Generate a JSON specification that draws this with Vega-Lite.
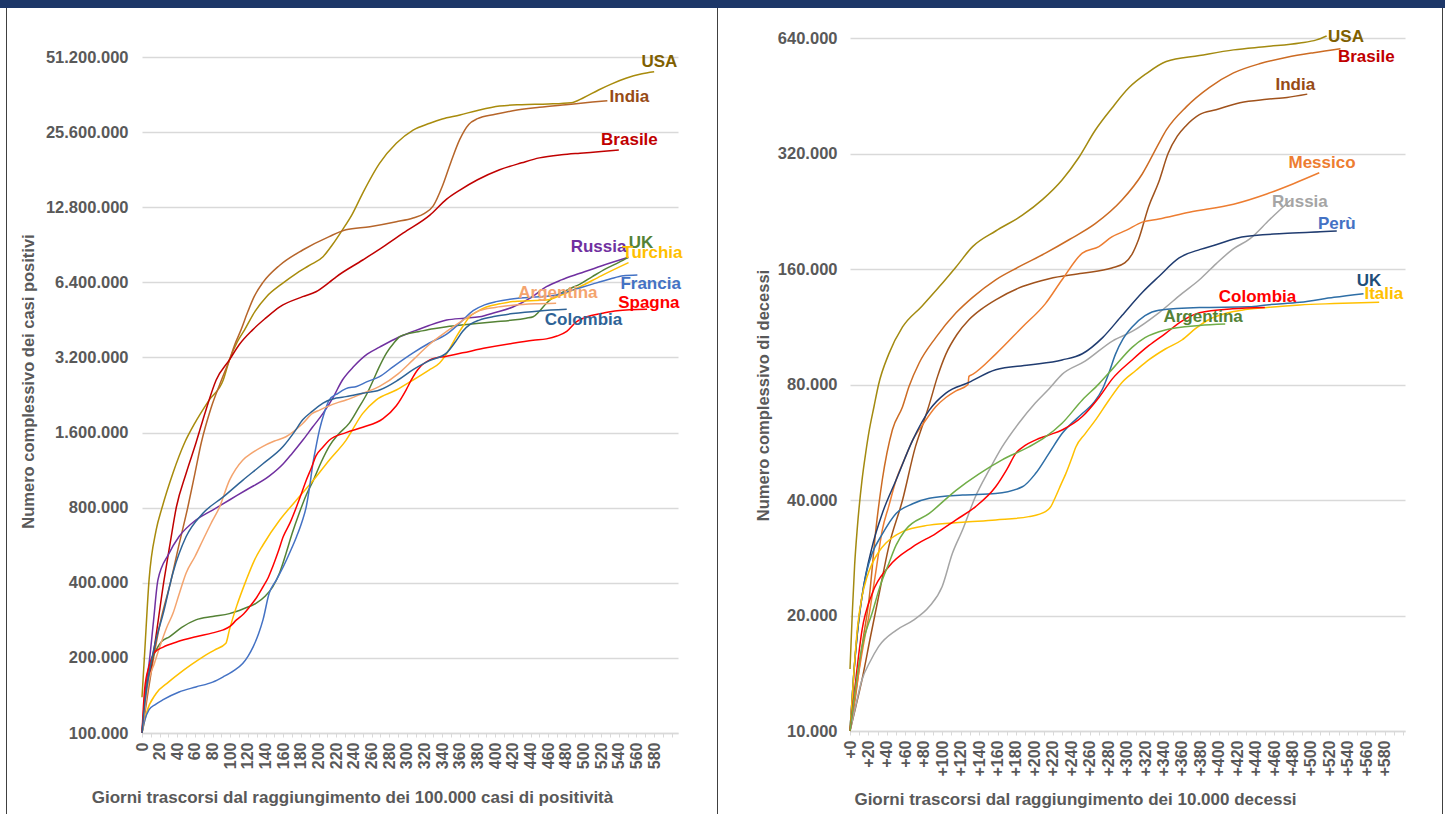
{
  "$schema": "https://vega.github.io/schema/vega-lite/v6.json",
  "padding": 0,
  "autosize": {"type": "pad"},
  "background": "white",
  "spacing": 0,
  "bounds": "flush",
  "config": {
    "font": "Liberation Sans",
    "view": {"stroke": null},
    "axis": {
      "labelFont": "Liberation Sans",
      "labelFontWeight": "bold",
      "labelColor": "#595959",
      "titleFont": "Liberation Sans",
      "titleFontWeight": "bold",
      "titleColor": "#595959",
      "gridColor": "#D9D9D9",
      "gridWidth": 1.5,
      "domainColor": "#D9D9D9",
      "tickColor": "#D9D9D9",
      "labelOverlap": false,
      "labelFlush": false,
      "labelBound": false
    },
    "line": {"strokeWidth": 1.5, "interpolate": "monotone"},
    "text": {"font": "Liberation Sans", "fontWeight": "bold", "fontSize": 17, "align": "center", "baseline": "middle"}
  },
  "datasets": {
    "cases": [
      {"country":"USA","day":0,"value":139000},{"country":"USA","day":3,"value":209000},{"country":"USA","day":8,"value":411000},{"country":"USA","day":16,"value":650000},{"country":"USA","day":23,"value":807000},{"country":"USA","day":35,"value":1100000},{"country":"USA","day":48,"value":1450000},{"country":"USA","day":60,"value":1750000},{"country":"USA","day":76,"value":2160000},{"country":"USA","day":92,"value":2600000},{"country":"USA","day":99,"value":3130000},{"country":"USA","day":108,"value":3700000},{"country":"USA","day":116,"value":4120000},{"country":"USA","day":128,"value":4900000},{"country":"USA","day":141,"value":5610000},{"country":"USA","day":158,"value":6300000},{"country":"USA","day":175,"value":6960000},{"country":"USA","day":190,"value":7500000},{"country":"USA","day":205,"value":8110000},{"country":"USA","day":215,"value":9000000},{"country":"USA","day":227,"value":10400000},{"country":"USA","day":238,"value":12000000},{"country":"USA","day":250,"value":14600000},{"country":"USA","day":269,"value":19200000},{"country":"USA","day":288,"value":23100000},{"country":"USA","day":307,"value":26100000},{"country":"USA","day":326,"value":27800000},{"country":"USA","day":340,"value":28900000},{"country":"USA","day":360,"value":30000000},{"country":"USA","day":380,"value":31300000},{"country":"USA","day":405,"value":32600000},{"country":"USA","day":430,"value":33000000},{"country":"USA","day":460,"value":33200000},{"country":"USA","day":486,"value":33600000},{"country":"USA","day":500,"value":35200000},{"country":"USA","day":517,"value":37800000},{"country":"USA","day":532,"value":40000000},{"country":"USA","day":548,"value":42100000},{"country":"USA","day":565,"value":43800000},{"country":"USA","day":580,"value":44700000},
      {"country":"India","day":0,"value":100000},{"country":"India","day":6,"value":140000},{"country":"India","day":12,"value":190000},{"country":"India","day":20,"value":270000},{"country":"India","day":33,"value":411000},{"country":"India","day":42,"value":570000},{"country":"India","day":52,"value":807000},{"country":"India","day":60,"value":1100000},{"country":"India","day":67,"value":1450000},{"country":"India","day":78,"value":2000000},{"country":"India","day":90,"value":2600000},{"country":"India","day":99,"value":3130000},{"country":"India","day":105,"value":3600000},{"country":"India","day":112,"value":4120000},{"country":"India","day":120,"value":4900000},{"country":"India","day":127,"value":5610000},{"country":"India","day":137,"value":6400000},{"country":"India","day":156,"value":7500000},{"country":"India","day":182,"value":8630000},{"country":"India","day":212,"value":9770000},{"country":"India","day":231,"value":10400000},{"country":"India","day":258,"value":10700000},{"country":"India","day":288,"value":11200000},{"country":"India","day":307,"value":11600000},{"country":"India","day":320,"value":12100000},{"country":"India","day":330,"value":13000000},{"country":"India","day":340,"value":15500000},{"country":"India","day":350,"value":19500000},{"country":"India","day":360,"value":24000000},{"country":"India","day":370,"value":27500000},{"country":"India","day":380,"value":29000000},{"country":"India","day":400,"value":30200000},{"country":"India","day":420,"value":31200000},{"country":"India","day":450,"value":32200000},{"country":"India","day":480,"value":33000000},{"country":"India","day":510,"value":33800000},{"country":"India","day":527,"value":34200000},
      {"country":"Brasile","day":0,"value":100000},{"country":"Brasile","day":5,"value":140000},{"country":"Brasile","day":14,"value":221000},{"country":"Brasile","day":25,"value":411000},{"country":"Brasile","day":32,"value":580000},{"country":"Brasile","day":39,"value":807000},{"country":"Brasile","day":50,"value":1100000},{"country":"Brasile","day":61,"value":1450000},{"country":"Brasile","day":72,"value":1950000},{"country":"Brasile","day":84,"value":2600000},{"country":"Brasile","day":99,"value":3130000},{"country":"Brasile","day":110,"value":3600000},{"country":"Brasile","day":125,"value":4120000},{"country":"Brasile","day":140,"value":4600000},{"country":"Brasile","day":156,"value":5110000},{"country":"Brasile","day":182,"value":5610000},{"country":"Brasile","day":197,"value":5870000},{"country":"Brasile","day":212,"value":6400000},{"country":"Brasile","day":220,"value":6740000},{"country":"Brasile","day":250,"value":7870000},{"country":"Brasile","day":273,"value":8890000},{"country":"Brasile","day":296,"value":10100000},{"country":"Brasile","day":326,"value":11900000},{"country":"Brasile","day":345,"value":13800000},{"country":"Brasile","day":360,"value":15000000},{"country":"Brasile","day":380,"value":16500000},{"country":"Brasile","day":405,"value":18100000},{"country":"Brasile","day":430,"value":19300000},{"country":"Brasile","day":450,"value":20200000},{"country":"Brasile","day":475,"value":20800000},{"country":"Brasile","day":496,"value":21100000},{"country":"Brasile","day":520,"value":21400000},{"country":"Brasile","day":540,"value":21700000},
      {"country":"Russia","day":0,"value":100000},{"country":"Russia","day":4,"value":150000},{"country":"Russia","day":8,"value":190000},{"country":"Russia","day":13,"value":280000},{"country":"Russia","day":18,"value":410000},{"country":"Russia","day":30,"value":520000},{"country":"Russia","day":42,"value":613000},{"country":"Russia","day":61,"value":714000},{"country":"Russia","day":80,"value":783000},{"country":"Russia","day":99,"value":859000},{"country":"Russia","day":118,"value":942000},{"country":"Russia","day":144,"value":1070000},{"country":"Russia","day":160,"value":1200000},{"country":"Russia","day":170,"value":1320000},{"country":"Russia","day":182,"value":1490000},{"country":"Russia","day":193,"value":1680000},{"country":"Russia","day":205,"value":1910000},{"country":"Russia","day":216,"value":2200000},{"country":"Russia","day":227,"value":2600000},{"country":"Russia","day":240,"value":2950000},{"country":"Russia","day":255,"value":3300000},{"country":"Russia","day":269,"value":3520000},{"country":"Russia","day":290,"value":3850000},{"country":"Russia","day":307,"value":4070000},{"country":"Russia","day":325,"value":4300000},{"country":"Russia","day":345,"value":4520000},{"country":"Russia","day":365,"value":4600000},{"country":"Russia","day":382,"value":4660000},{"country":"Russia","day":400,"value":4850000},{"country":"Russia","day":420,"value":5100000},{"country":"Russia","day":440,"value":5550000},{"country":"Russia","day":458,"value":6150000},{"country":"Russia","day":475,"value":6550000},{"country":"Russia","day":496,"value":6960000},{"country":"Russia","day":520,"value":7450000},{"country":"Russia","day":551,"value":8070000},
      {"country":"UK","day":0,"value":100000},{"country":"UK","day":5,"value":150000},{"country":"UK","day":10,"value":190000},{"country":"UK","day":16,"value":215000},{"country":"UK","day":22,"value":232000},{"country":"UK","day":31,"value":243000},{"country":"UK","day":45,"value":265000},{"country":"UK","day":61,"value":284000},{"country":"UK","day":80,"value":293000},{"country":"UK","day":99,"value":301000},{"country":"UK","day":115,"value":315000},{"country":"UK","day":129,"value":331000},{"country":"UK","day":140,"value":355000},{"country":"UK","day":148,"value":385000},{"country":"UK","day":156,"value":440000},{"country":"UK","day":163,"value":523000},{"country":"UK","day":170,"value":630000},{"country":"UK","day":178,"value":760000},{"country":"UK","day":186,"value":900000},{"country":"UK","day":194,"value":1030000},{"country":"UK","day":203,"value":1220000},{"country":"UK","day":212,"value":1410000},{"country":"UK","day":222,"value":1570000},{"country":"UK","day":235,"value":1750000},{"country":"UK","day":245,"value":2000000},{"country":"UK","day":255,"value":2300000},{"country":"UK","day":262,"value":2600000},{"country":"UK","day":268,"value":2900000},{"country":"UK","day":277,"value":3340000},{"country":"UK","day":285,"value":3650000},{"country":"UK","day":292,"value":3880000},{"country":"UK","day":303,"value":4000000},{"country":"UK","day":314,"value":4070000},{"country":"UK","day":330,"value":4170000},{"country":"UK","day":345,"value":4250000},{"country":"UK","day":365,"value":4330000},{"country":"UK","day":382,"value":4390000},{"country":"UK","day":400,"value":4450000},{"country":"UK","day":420,"value":4520000},{"country":"UK","day":435,"value":4600000},{"country":"UK","day":443,"value":4660000},{"country":"UK","day":450,"value":4900000},{"country":"UK","day":458,"value":5280000},{"country":"UK","day":465,"value":5550000},{"country":"UK","day":473,"value":5770000},{"country":"UK","day":485,"value":6050000},{"country":"UK","day":496,"value":6300000},{"country":"UK","day":510,"value":6750000},{"country":"UK","day":525,"value":7250000},{"country":"UK","day":540,"value":7700000},{"country":"UK","day":551,"value":8070000},
      {"country":"Turchia","day":0,"value":100000},{"country":"Turchia","day":5,"value":120000},{"country":"Turchia","day":16,"value":144000},{"country":"Turchia","day":30,"value":160000},{"country":"Turchia","day":42,"value":173000},{"country":"Turchia","day":55,"value":187000},{"country":"Turchia","day":69,"value":202000},{"country":"Turchia","day":82,"value":215000},{"country":"Turchia","day":95,"value":229000},{"country":"Turchia","day":99,"value":259000},{"country":"Turchia","day":103,"value":290000},{"country":"Turchia","day":107,"value":321000},{"country":"Turchia","day":118,"value":410000},{"country":"Turchia","day":127,"value":490000},{"country":"Turchia","day":137,"value":567000},{"country":"Turchia","day":156,"value":714000},{"country":"Turchia","day":175,"value":859000},{"country":"Turchia","day":194,"value":1030000},{"country":"Turchia","day":212,"value":1240000},{"country":"Turchia","day":231,"value":1490000},{"country":"Turchia","day":250,"value":1910000},{"country":"Turchia","day":265,"value":2160000},{"country":"Turchia","day":288,"value":2370000},{"country":"Turchia","day":307,"value":2600000},{"country":"Turchia","day":325,"value":2850000},{"country":"Turchia","day":337,"value":3040000},{"country":"Turchia","day":347,"value":3400000},{"country":"Turchia","day":356,"value":3880000},{"country":"Turchia","day":364,"value":4300000},{"country":"Turchia","day":371,"value":4660000},{"country":"Turchia","day":380,"value":4900000},{"country":"Turchia","day":390,"value":5100000},{"country":"Turchia","day":405,"value":5250000},{"country":"Turchia","day":420,"value":5360000},{"country":"Turchia","day":440,"value":5400000},{"country":"Turchia","day":458,"value":5440000},{"country":"Turchia","day":475,"value":5700000},{"country":"Turchia","day":496,"value":6150000},{"country":"Turchia","day":520,"value":6800000},{"country":"Turchia","day":551,"value":7680000},
      {"country":"Francia","day":0,"value":100000},{"country":"Francia","day":3,"value":112000},{"country":"Francia","day":8,"value":124000},{"country":"Francia","day":15,"value":130000},{"country":"Francia","day":24,"value":136000},{"country":"Francia","day":42,"value":146000},{"country":"Francia","day":61,"value":153000},{"country":"Francia","day":80,"value":160000},{"country":"Francia","day":92,"value":168000},{"country":"Francia","day":104,"value":178000},{"country":"Francia","day":114,"value":190000},{"country":"Francia","day":120,"value":203000},{"country":"Francia","day":126,"value":222000},{"country":"Francia","day":132,"value":250000},{"country":"Francia","day":137,"value":284000},{"country":"Francia","day":144,"value":363000},{"country":"Francia","day":152,"value":410000},{"country":"Francia","day":160,"value":464000},{"country":"Francia","day":168,"value":535000},{"country":"Francia","day":175,"value":612000},{"country":"Francia","day":181,"value":700000},{"country":"Francia","day":186,"value":807000},{"country":"Francia","day":190,"value":980000},{"country":"Francia","day":193,"value":1170000},{"country":"Francia","day":197,"value":1400000},{"country":"Francia","day":201,"value":1640000},{"country":"Francia","day":206,"value":1900000},{"country":"Francia","day":212,"value":2160000},{"country":"Francia","day":222,"value":2300000},{"country":"Francia","day":231,"value":2400000},{"country":"Francia","day":243,"value":2450000},{"country":"Francia","day":255,"value":2560000},{"country":"Francia","day":269,"value":2680000},{"country":"Francia","day":285,"value":2950000},{"country":"Francia","day":307,"value":3340000},{"country":"Francia","day":325,"value":3650000},{"country":"Francia","day":345,"value":3970000},{"country":"Francia","day":360,"value":4400000},{"country":"Francia","day":375,"value":4930000},{"country":"Francia","day":388,"value":5200000},{"country":"Francia","day":401,"value":5360000},{"country":"Francia","day":428,"value":5540000},{"country":"Francia","day":450,"value":5600000},{"country":"Francia","day":469,"value":5700000},{"country":"Francia","day":490,"value":6000000},{"country":"Francia","day":510,"value":6300000},{"country":"Francia","day":530,"value":6600000},{"country":"Francia","day":545,"value":6800000},{"country":"Francia","day":561,"value":6850000},
      {"country":"Argentina","day":0,"value":100000},{"country":"Argentina","day":4,"value":130000},{"country":"Argentina","day":8,"value":163000},{"country":"Argentina","day":14,"value":190000},{"country":"Argentina","day":20,"value":221000},{"country":"Argentina","day":28,"value":265000},{"country":"Argentina","day":35,"value":301000},{"country":"Argentina","day":42,"value":360000},{"country":"Argentina","day":50,"value":438000},{"country":"Argentina","day":60,"value":510000},{"country":"Argentina","day":69,"value":594000},{"country":"Argentina","day":78,"value":690000},{"country":"Argentina","day":88,"value":807000},{"country":"Argentina","day":99,"value":1030000},{"country":"Argentina","day":106,"value":1140000},{"country":"Argentina","day":114,"value":1240000},{"country":"Argentina","day":125,"value":1330000},{"country":"Argentina","day":137,"value":1410000},{"country":"Argentina","day":150,"value":1480000},{"country":"Argentina","day":163,"value":1540000},{"country":"Argentina","day":182,"value":1740000},{"country":"Argentina","day":193,"value":1910000},{"country":"Argentina","day":201,"value":1970000},{"country":"Argentina","day":220,"value":2100000},{"country":"Argentina","day":231,"value":2160000},{"country":"Argentina","day":250,"value":2300000},{"country":"Argentina","day":269,"value":2450000},{"country":"Argentina","day":290,"value":2750000},{"country":"Argentina","day":307,"value":3130000},{"country":"Argentina","day":325,"value":3600000},{"country":"Argentina","day":345,"value":4070000},{"country":"Argentina","day":365,"value":4550000},{"country":"Argentina","day":382,"value":4930000},{"country":"Argentina","day":400,"value":5080000},{"country":"Argentina","day":420,"value":5180000},{"country":"Argentina","day":445,"value":5250000},{"country":"Argentina","day":469,"value":5280000},
      {"country":"Spagna","day":0,"value":100000},{"country":"Spagna","day":3,"value":150000},{"country":"Spagna","day":8,"value":185000},{"country":"Spagna","day":14,"value":210000},{"country":"Spagna","day":24,"value":221000},{"country":"Spagna","day":40,"value":232000},{"country":"Spagna","day":61,"value":243000},{"country":"Spagna","day":80,"value":252000},{"country":"Spagna","day":92,"value":259000},{"country":"Spagna","day":100,"value":268000},{"country":"Spagna","day":107,"value":284000},{"country":"Spagna","day":115,"value":300000},{"country":"Spagna","day":122,"value":321000},{"country":"Spagna","day":130,"value":350000},{"country":"Spagna","day":137,"value":385000},{"country":"Spagna","day":143,"value":420000},{"country":"Spagna","day":148,"value":464000},{"country":"Spagna","day":154,"value":530000},{"country":"Spagna","day":160,"value":613000},{"country":"Spagna","day":168,"value":700000},{"country":"Spagna","day":175,"value":807000},{"country":"Spagna","day":181,"value":920000},{"country":"Spagna","day":186,"value":1030000},{"country":"Spagna","day":192,"value":1160000},{"country":"Spagna","day":197,"value":1290000},{"country":"Spagna","day":205,"value":1400000},{"country":"Spagna","day":212,"value":1490000},{"country":"Spagna","day":231,"value":1600000},{"country":"Spagna","day":250,"value":1680000},{"country":"Spagna","day":273,"value":1820000},{"country":"Spagna","day":288,"value":2050000},{"country":"Spagna","day":299,"value":2370000},{"country":"Spagna","day":305,"value":2600000},{"country":"Spagna","day":312,"value":2850000},{"country":"Spagna","day":326,"value":3130000},{"country":"Spagna","day":345,"value":3240000},{"country":"Spagna","day":363,"value":3340000},{"country":"Spagna","day":390,"value":3500000},{"country":"Spagna","day":420,"value":3650000},{"country":"Spagna","day":443,"value":3750000},{"country":"Spagna","day":458,"value":3800000},{"country":"Spagna","day":470,"value":3900000},{"country":"Spagna","day":481,"value":4070000},{"country":"Spagna","day":492,"value":4450000},{"country":"Spagna","day":504,"value":4660000},{"country":"Spagna","day":520,"value":4800000},{"country":"Spagna","day":538,"value":4930000},{"country":"Spagna","day":572,"value":4990000},
      {"country":"Colombia","day":0,"value":100000},{"country":"Colombia","day":4,"value":140000},{"country":"Colombia","day":8,"value":173000},{"country":"Colombia","day":15,"value":230000},{"country":"Colombia","day":24,"value":301000},{"country":"Colombia","day":35,"value":438000},{"country":"Colombia","day":50,"value":613000},{"country":"Colombia","day":69,"value":760000},{"country":"Colombia","day":92,"value":884000},{"country":"Colombia","day":114,"value":1030000},{"country":"Colombia","day":137,"value":1200000},{"country":"Colombia","day":160,"value":1410000},{"country":"Colombia","day":172,"value":1600000},{"country":"Colombia","day":182,"value":1800000},{"country":"Colombia","day":193,"value":1950000},{"country":"Colombia","day":205,"value":2100000},{"country":"Colombia","day":220,"value":2200000},{"country":"Colombia","day":231,"value":2230000},{"country":"Colombia","day":250,"value":2300000},{"country":"Colombia","day":269,"value":2370000},{"country":"Colombia","day":290,"value":2600000},{"country":"Colombia","day":307,"value":2860000},{"country":"Colombia","day":325,"value":3100000},{"country":"Colombia","day":345,"value":3340000},{"country":"Colombia","day":355,"value":3700000},{"country":"Colombia","day":363,"value":4070000},{"country":"Colombia","day":372,"value":4350000},{"country":"Colombia","day":382,"value":4520000},{"country":"Colombia","day":400,"value":4680000},{"country":"Colombia","day":420,"value":4800000},{"country":"Colombia","day":450,"value":4920000},{"country":"Colombia","day":481,"value":4990000}
    ],
    "casesLabels": [
      {"label":"USA","day":586,"value":48800000},
      {"label":"India","day":552,"value":35500000},
      {"label":"Brasile","day":552,"value":23800000},
      {"label":"Russia","day":517,"value":8900000},
      {"label":"UK","day":565,"value":9230000},
      {"label":"Turchia","day":578,"value":8370000},
      {"label":"Francia","day":576,"value":6310000},
      {"label":"Argentina","day":471,"value":5790000},
      {"label":"Spagna","day":574,"value":5280000},
      {"label":"Colombia","day":500,"value":4520000}
    ],
    "deaths": [
      {"country":"USA","day":0,"value":14500},{"country":"USA","day":2.5,"value":20300},{"country":"USA","day":5,"value":27000},{"country":"USA","day":8,"value":34000},{"country":"USA","day":13,"value":45000},{"country":"USA","day":17,"value":53000},{"country":"USA","day":21,"value":61000},{"country":"USA","day":26,"value":70000},{"country":"USA","day":31,"value":80000},{"country":"USA","day":42,"value":96000},{"country":"USA","day":57,"value":113000},{"country":"USA","day":78,"value":128000},{"country":"USA","day":97,"value":144000},{"country":"USA","day":115,"value":162000},{"country":"USA","day":133,"value":183000},{"country":"USA","day":158,"value":201000},{"country":"USA","day":187,"value":221000},{"country":"USA","day":209,"value":243000},{"country":"USA","day":230,"value":273000},{"country":"USA","day":248,"value":312000},{"country":"USA","day":266,"value":368000},{"country":"USA","day":284,"value":420000},{"country":"USA","day":303,"value":476000},{"country":"USA","day":321,"value":516000},{"country":"USA","day":343,"value":556000},{"country":"USA","day":379,"value":576000},{"country":"USA","day":416,"value":596000},{"country":"USA","day":452,"value":608000},{"country":"USA","day":488,"value":621000},{"country":"USA","day":506,"value":633000},{"country":"USA","day":517,"value":648000},
      {"country":"Brasile","day":0,"value":10000},{"country":"Brasile","day":6,"value":12300},{"country":"Brasile","day":13,"value":16600},{"country":"Brasile","day":21,"value":22400},{"country":"Brasile","day":28,"value":33400},{"country":"Brasile","day":35,"value":45100},{"country":"Brasile","day":46,"value":61000},{"country":"Brasile","day":57,"value":70000},{"country":"Brasile","day":64,"value":79000},{"country":"Brasile","day":75,"value":91000},{"country":"Brasile","day":93,"value":106000},{"country":"Brasile","day":115,"value":123000},{"country":"Brasile","day":133,"value":135000},{"country":"Brasile","day":158,"value":150000},{"country":"Brasile","day":183,"value":162000},{"country":"Brasile","day":212,"value":176000},{"country":"Brasile","day":238,"value":191000},{"country":"Brasile","day":266,"value":210000},{"country":"Brasile","day":295,"value":242000},{"country":"Brasile","day":317,"value":283000},{"country":"Brasile","day":335,"value":340000},{"country":"Brasile","day":343,"value":368000},{"country":"Brasile","day":365,"value":424000},{"country":"Brasile","day":390,"value":476000},{"country":"Brasile","day":416,"value":519000},{"country":"Brasile","day":445,"value":549000},{"country":"Brasile","day":474,"value":570000},{"country":"Brasile","day":503,"value":586000},{"country":"Brasile","day":532,"value":600000},
      {"country":"India","day":0,"value":10000},{"country":"India","day":6,"value":11500},{"country":"India","day":13,"value":13600},{"country":"India","day":22,"value":17500},{"country":"India","day":31,"value":22400},{"country":"India","day":42,"value":30200},{"country":"India","day":57,"value":40000},{"country":"India","day":71,"value":55100},{"country":"India","day":80,"value":64000},{"country":"India","day":86,"value":71000},{"country":"India","day":95,"value":84000},{"country":"India","day":104,"value":96000},{"country":"India","day":116,"value":108000},{"country":"India","day":129,"value":118000},{"country":"India","day":143,"value":126000},{"country":"India","day":158,"value":133000},{"country":"India","day":187,"value":144000},{"country":"India","day":216,"value":151000},{"country":"India","day":252,"value":156000},{"country":"India","day":284,"value":161000},{"country":"India","day":298,"value":166000},{"country":"India","day":306,"value":175000},{"country":"India","day":313,"value":191000},{"country":"India","day":324,"value":233000},{"country":"India","day":335,"value":270000},{"country":"India","day":345,"value":320000},{"country":"India","day":355,"value":355000},{"country":"India","day":364,"value":377000},{"country":"India","day":379,"value":404000},{"country":"India","day":397,"value":416000},{"country":"India","day":423,"value":434000},{"country":"India","day":452,"value":443000},{"country":"India","day":474,"value":448000},{"country":"India","day":496,"value":457000},
      {"country":"Messico","day":0,"value":10000},{"country":"Messico","day":7,"value":13000},{"country":"Messico","day":14,"value":16500},{"country":"Messico","day":21,"value":20300},{"country":"Messico","day":28,"value":26000},{"country":"Messico","day":35,"value":33400},{"country":"Messico","day":42,"value":38500},{"country":"Messico","day":50,"value":45100},{"country":"Messico","day":59,"value":51000},{"country":"Messico","day":68,"value":57300},{"country":"Messico","day":80,"value":63500},{"country":"Messico","day":93,"value":70000},{"country":"Messico","day":104,"value":74000},{"country":"Messico","day":115,"value":77000},{"country":"Messico","day":128,"value":80000},{"country":"Messico","day":129,"value":84000},{"country":"Messico","day":133,"value":85000},{"country":"Messico","day":158,"value":96000},{"country":"Messico","day":187,"value":113000},{"country":"Messico","day":212,"value":130000},{"country":"Messico","day":230,"value":150000},{"country":"Messico","day":252,"value":176000},{"country":"Messico","day":270,"value":183000},{"country":"Messico","day":284,"value":194000},{"country":"Messico","day":300,"value":202000},{"country":"Messico","day":317,"value":212000},{"country":"Messico","day":335,"value":216000},{"country":"Messico","day":368,"value":225000},{"country":"Messico","day":416,"value":236000},{"country":"Messico","day":452,"value":251000},{"country":"Messico","day":481,"value":267000},{"country":"Messico","day":509,"value":285000},
      {"country":"Russia","day":0,"value":10000},{"country":"Russia","day":5,"value":11300},{"country":"Russia","day":13,"value":13600},{"country":"Russia","day":22,"value":15200},{"country":"Russia","day":31,"value":16600},{"country":"Russia","day":50,"value":18300},{"country":"Russia","day":68,"value":19400},{"country":"Russia","day":86,"value":21100},{"country":"Russia","day":100,"value":23800},{"country":"Russia","day":111,"value":29000},{"country":"Russia","day":122,"value":33400},{"country":"Russia","day":136,"value":40800},{"country":"Russia","day":151,"value":47900},{"country":"Russia","day":165,"value":55000},{"country":"Russia","day":183,"value":63400},{"country":"Russia","day":201,"value":71600},{"country":"Russia","day":216,"value":78000},{"country":"Russia","day":230,"value":85000},{"country":"Russia","day":255,"value":92000},{"country":"Russia","day":285,"value":104000},{"country":"Russia","day":306,"value":110000},{"country":"Russia","day":335,"value":123000},{"country":"Russia","day":360,"value":138000},{"country":"Russia","day":379,"value":150000},{"country":"Russia","day":397,"value":165000},{"country":"Russia","day":415,"value":180000},{"country":"Russia","day":434,"value":192000},{"country":"Russia","day":455,"value":215000},{"country":"Russia","day":478,"value":242000},
      {"country":"Perù","day":0,"value":10000},{"country":"Perù","day":4,"value":14000},{"country":"Perù","day":8,"value":18000},{"country":"Perù","day":13,"value":22400},{"country":"Perù","day":24,"value":30200},{"country":"Perù","day":35,"value":36900},{"country":"Perù","day":50,"value":45100},{"country":"Perù","day":68,"value":57300},{"country":"Perù","day":86,"value":68600},{"country":"Perù","day":104,"value":76000},{"country":"Perù","day":129,"value":81000},{"country":"Perù","day":158,"value":87400},{"country":"Perù","day":194,"value":89900},{"country":"Perù","day":230,"value":92700},{"country":"Perù","day":252,"value":96200},{"country":"Perù","day":274,"value":106000},{"country":"Perù","day":295,"value":121000},{"country":"Perù","day":317,"value":139000},{"country":"Perù","day":335,"value":153000},{"country":"Perù","day":357,"value":171000},{"country":"Perù","day":380,"value":180000},{"country":"Perù","day":397,"value":185000},{"country":"Perù","day":425,"value":194000},{"country":"Perù","day":470,"value":198000},{"country":"Perù","day":510,"value":200000},{"country":"Perù","day":528,"value":201000},
      {"country":"UK","day":0,"value":10000},{"country":"UK","day":5,"value":15000},{"country":"UK","day":9,"value":19000},{"country":"UK","day":13,"value":22400},{"country":"UK","day":18,"value":26000},{"country":"UK","day":24,"value":29000},{"country":"UK","day":35,"value":32600},{"country":"UK","day":50,"value":36900},{"country":"UK","day":68,"value":39100},{"country":"UK","day":86,"value":40400},{"country":"UK","day":122,"value":41200},{"country":"UK","day":158,"value":41600},{"country":"UK","day":187,"value":43300},{"country":"UK","day":201,"value":46800},{"country":"UK","day":216,"value":53000},{"country":"UK","day":230,"value":59600},{"country":"UK","day":252,"value":67200},{"country":"UK","day":265,"value":72000},{"country":"UK","day":274,"value":78000},{"country":"UK","day":281,"value":86000},{"country":"UK","day":288,"value":96000},{"country":"UK","day":296,"value":105000},{"country":"UK","day":306,"value":113000},{"country":"UK","day":320,"value":121000},{"country":"UK","day":335,"value":125000},{"country":"UK","day":379,"value":127000},{"country":"UK","day":433,"value":127500},{"country":"UK","day":452,"value":129000},{"country":"UK","day":488,"value":131000},{"country":"UK","day":525,"value":135000},{"country":"UK","day":557,"value":138000},
      {"country":"Italia","day":0,"value":10000},{"country":"Italia","day":4,"value":14000},{"country":"Italia","day":8,"value":18500},{"country":"Italia","day":13,"value":22400},{"country":"Italia","day":18,"value":25000},{"country":"Italia","day":24,"value":27300},{"country":"Italia","day":32,"value":29500},{"country":"Italia","day":39,"value":30900},{"country":"Italia","day":57,"value":33100},{"country":"Italia","day":86,"value":34400},{"country":"Italia","day":122,"value":35000},{"country":"Italia","day":158,"value":35500},{"country":"Italia","day":194,"value":36200},{"country":"Italia","day":212,"value":37300},{"country":"Italia","day":218,"value":38500},{"country":"Italia","day":223,"value":40800},{"country":"Italia","day":229,"value":44000},{"country":"Italia","day":234,"value":46800},{"country":"Italia","day":240,"value":51000},{"country":"Italia","day":245,"value":55000},{"country":"Italia","day":255,"value":59500},{"country":"Italia","day":266,"value":64500},{"country":"Italia","day":281,"value":72900},{"country":"Italia","day":295,"value":81000},{"country":"Italia","day":310,"value":87000},{"country":"Italia","day":324,"value":92700},{"country":"Italia","day":342,"value":99000},{"country":"Italia","day":360,"value":104500},{"country":"Italia","day":375,"value":112000},{"country":"Italia","day":389,"value":118000},{"country":"Italia","day":410,"value":123000},{"country":"Italia","day":425,"value":125000},{"country":"Italia","day":452,"value":127000},{"country":"Italia","day":488,"value":129000},{"country":"Italia","day":525,"value":130000},{"country":"Italia","day":574,"value":131000},
      {"country":"Colombia","day":0,"value":10000},{"country":"Colombia","day":5,"value":12800},{"country":"Colombia","day":13,"value":18300},{"country":"Colombia","day":24,"value":22800},{"country":"Colombia","day":42,"value":26800},{"country":"Colombia","day":68,"value":30200},{"country":"Colombia","day":93,"value":32700},{"country":"Colombia","day":115,"value":35500},{"country":"Colombia","day":136,"value":38400},{"country":"Colombia","day":158,"value":43300},{"country":"Colombia","day":170,"value":48000},{"country":"Colombia","day":180,"value":53000},{"country":"Colombia","day":190,"value":55500},{"country":"Colombia","day":201,"value":57300},{"country":"Colombia","day":215,"value":59000},{"country":"Colombia","day":230,"value":60900},{"country":"Colombia","day":252,"value":66000},{"country":"Colombia","day":270,"value":74000},{"country":"Colombia","day":285,"value":83000},{"country":"Colombia","day":306,"value":92700},{"country":"Colombia","day":324,"value":101000},{"country":"Colombia","day":342,"value":108600},{"country":"Colombia","day":360,"value":117000},{"country":"Colombia","day":379,"value":123000},{"country":"Colombia","day":415,"value":126000},{"country":"Colombia","day":450,"value":127000},
      {"country":"Argentina","day":0,"value":10000},{"country":"Argentina","day":6,"value":13000},{"country":"Argentina","day":13,"value":16600},{"country":"Argentina","day":24,"value":20300},{"country":"Argentina","day":33,"value":24000},{"country":"Argentina","day":42,"value":27300},{"country":"Argentina","day":50,"value":30500},{"country":"Argentina","day":60,"value":33400},{"country":"Argentina","day":86,"value":36900},{"country":"Argentina","day":115,"value":42400},{"country":"Argentina","day":140,"value":46800},{"country":"Argentina","day":165,"value":50900},{"country":"Argentina","day":194,"value":55000},{"country":"Argentina","day":212,"value":58400},{"country":"Argentina","day":230,"value":63400},{"country":"Argentina","day":252,"value":72900},{"country":"Argentina","day":270,"value":80300},{"country":"Argentina","day":285,"value":88000},{"country":"Argentina","day":306,"value":100000},{"country":"Argentina","day":320,"value":106000},{"country":"Argentina","day":342,"value":111000},{"country":"Argentina","day":379,"value":114000},{"country":"Argentina","day":407,"value":115000}
    ],
    "deathsLabels": [
      {"label":"USA","day":538,"value":643000},
      {"label":"Brasile","day":560,"value":570000},
      {"label":"India","day":483,"value":483000},
      {"label":"Messico","day":512,"value":302000},
      {"label":"Russia","day":488,"value":239000},
      {"label":"Perù","day":528,"value":210000},
      {"label":"UK","day":563,"value":149000},
      {"label":"Italia","day":579,"value":138000},
      {"label":"Colombia","day":442,"value":135000},
      {"label":"Argentina","day":383,"value":120000}
    ]
  },
  "vconcat": [
    {
      "width": 1445,
      "height": 8,
      "data": {"values": [{}]},
      "mark": {"type": "rect", "color": "#1D3768"},
      "encoding": {}
    },
    {
      "bounds": "flush",
      "spacing": 0,
      "hconcat": [
        {"width": 6, "height": 806, "data": {"values": [{}]}, "mark": {"type": "rect", "opacity": 0}, "encoding": {}},
        {"width": 1, "height": 806, "data": {"values": [{}]}, "mark": {"type": "rect", "color": "#404040"}, "encoding": {}},
        {"width": 135, "height": 806, "data": {"values": [{}]}, "mark": {"type": "rect", "opacity": 0}, "encoding": {}},
        {
          "width": 536,
          "height": 725,
          "encoding": {
            "x": {
              "field": "day",
              "type": "quantitative",
              "scale": {"domain": [0, 607], "nice": false, "zero": false},
              "axis": {
                "values": [0,10,20,30,40,50,60,70,80,90,100,110,120,130,140,150,160,170,180,190,200,210,220,230,240,250,260,270,280,290,300,310,320,330,340,350,360,370,380,390,400,410,420,430,440,450,460,470,480,490,500,510,520,530,540,550,560,570,580,590,600],
                "labelExpr": "datum.value % 20 === 0 && datum.value <= 580 ? datum.label : ''",
                "labelAngle": -90,
                "labelFontSize": 16,
                "tickSize": 4,
                "labelPadding": 5,
                "grid": false,
                "domainWidth": 1.5,
                "title": "Giorni trascorsi dal raggiungimento dei 100.000 casi di positività",
                "titleFontSize": 17,
                "titleX": 210,
                "titleY": 64,
                "titleBaseline": "middle",
                "titleAlign": "center"
              }
            },
            "y": {
              "field": "value",
              "type": "quantitative",
              "scale": {"type": "log", "base": 2, "domain": [100000, 80550000], "nice": false},
              "axis": {
                "values": [100000, 200000, 400000, 800000, 1600000, 3200000, 6400000, 12800000, 25600000, 51200000],
                "labelExpr": "replace(format(datum.value, ','), regexp(',', 'g'), '.')",
                "labelFontSize": 16.5,
                "labelPadding": 14,
                "ticks": false,
                "domain": false,
                "grid": true,
                "title": "Numero complessivo dei casi positivi",
                "titleFontSize": 16.5,
                "titleX": -114,
                "titleY": 373,
                "titleAngle": -90,
                "titleBaseline": "middle",
                "titleAlign": "center"
              }
            }
          },
          "layer": [
            {
              "data": {"name": "cases"},
              "mark": {"type": "line"},
              "encoding": {
                "color": {
                  "field": "country",
                  "type": "nominal",
                  "legend": null,
                  "scale": {
                    "domain": ["USA","India","Brasile","Russia","UK","Turchia","Francia","Argentina","Spagna","Colombia"],
                    "range": ["#A88B0C","#B6652A","#C00000","#7030A0","#548235","#FFC000","#4472C4","#F4A46E","#FF0000","#2E6396"]
                  }
                }
              }
            },
            {
              "data": {"name": "casesLabels"},
              "mark": {"type": "text"},
              "encoding": {
                "text": {"field": "label"},
                "color": {
                  "field": "label",
                  "type": "nominal",
                  "legend": null,
                  "scale": {
                    "domain": ["USA","India","Brasile","Russia","UK","Turchia","Francia","Argentina","Spagna","Colombia"],
                    "range": ["#7F6000","#974B16","#C00000","#7030A0","#548235","#FFC000","#4472C4","#F4A46E","#FF0000","#2E6396"]
                  }
                }
              }
            }
          ],
          "resolve": {"scale": {"color": "independent"}}
        },
        {"width": 39, "height": 806, "data": {"values": [{}]}, "mark": {"type": "rect", "opacity": 0}, "encoding": {}},
        {"width": 1, "height": 806, "data": {"values": [{}]}, "mark": {"type": "rect", "color": "#404040"}, "encoding": {}},
        {"width": 132, "height": 806, "data": {"values": [{}]}, "mark": {"type": "rect", "opacity": 0}, "encoding": {}},
        {
          "width": 555,
          "height": 723,
          "encoding": {
            "x": {
              "field": "day",
              "type": "quantitative",
              "scale": {"domain": [0, 602], "nice": false, "zero": false},
              "axis": {
                "values": [0,10,20,30,40,50,60,70,80,90,100,110,120,130,140,150,160,170,180,190,200,210,220,230,240,250,260,270,280,290,300,310,320,330,340,350,360,370,380,390,400,410,420,430,440,450,460,470,480,490,500,510,520,530,540,550,560,570,580,590,600],
                "labelExpr": "datum.value % 20 === 0 && datum.value <= 580 ? '+' + datum.label : ''",
                "labelAngle": -90,
                "labelFontSize": 16,
                "tickSize": 4,
                "labelPadding": 5,
                "grid": false,
                "domainWidth": 1.5,
                "title": "Giorni trascorsi dal raggiungimento dei 10.000 decessi",
                "titleFontSize": 17,
                "titleX": 225,
                "titleY": 68,
                "titleBaseline": "middle",
                "titleAlign": "center"
              }
            },
            "y": {
              "field": "value",
              "type": "quantitative",
              "scale": {"type": "log", "base": 2, "domain": [10000, 766300], "nice": false},
              "axis": {
                "values": [10000, 20000, 40000, 80000, 160000, 320000, 640000],
                "labelExpr": "replace(format(datum.value, ','), regexp(',', 'g'), '.')",
                "labelFontSize": 16.5,
                "labelPadding": 13,
                "ticks": false,
                "domain": false,
                "grid": true,
                "title": "Numero complessivo di decessi",
                "titleFontSize": 16.5,
                "titleX": -87,
                "titleY": 387,
                "titleAngle": -90,
                "titleBaseline": "middle",
                "titleAlign": "center"
              }
            }
          },
          "layer": [
            {
              "data": {"name": "deaths"},
              "mark": {"type": "line"},
              "encoding": {
                "color": {
                  "field": "country",
                  "type": "nominal",
                  "legend": null,
                  "scale": {
                    "domain": ["USA","Brasile","India","Messico","Russia","Perù","UK","Italia","Colombia","Argentina"],
                    "range": ["#A38A10","#CC6B23","#A0521C","#ED7D31","#A5A5A5","#203C70","#2E6EA6","#FFC000","#FF0000","#70AD47"]
                  }
                }
              }
            },
            {
              "data": {"name": "deathsLabels"},
              "mark": {"type": "text"},
              "encoding": {
                "text": {"field": "label"},
                "color": {
                  "field": "label",
                  "type": "nominal",
                  "legend": null,
                  "scale": {
                    "domain": ["USA","Brasile","India","Messico","Russia","Perù","UK","Italia","Colombia","Argentina"],
                    "range": ["#7F6000","#C00000","#974B16","#ED7D31","#A5A5A5","#4472C4","#1F4E79","#FFC000","#FF0000","#548235"]
                  }
                }
              }
            }
          ],
          "resolve": {"scale": {"color": "independent"}}
        },
        {"width": 37, "height": 806, "data": {"values": [{}]}, "mark": {"type": "rect", "opacity": 0}, "encoding": {}},
        {"width": 1, "height": 806, "data": {"values": [{}]}, "mark": {"type": "rect", "color": "#404040"}, "encoding": {}}
      ]
    }
  ]
}
